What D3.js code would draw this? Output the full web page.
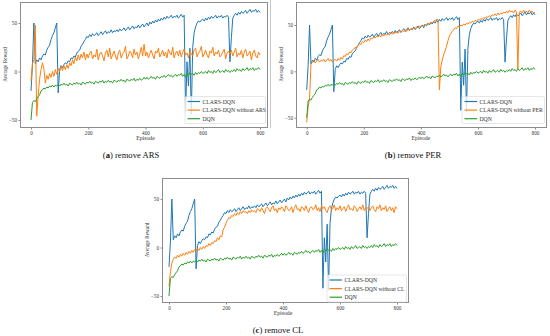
<!DOCTYPE html>
<html>
<head>
<meta charset="utf-8">
<script src="https://cdn.jsdelivr.net/npm/d3@7"></script>
<style>
  body { margin: 0; background: #fff; }
  svg { display: block; }
</style>
</head>
<body>
<svg width="550" height="336"></svg>
<script>
const episodes = d3.range(0, 801, 5);
const xTicks = [0, 200, 400, 600, 800];
const yTicks = [-50, 0, 50];

const clarsDqn = [
  -20, 6, 50, 8, 12, 10, 14, 12, 16, 18, 17, 22, 25, 27, 33, 37, 40, 45, 50, -22,
  2, 6, 4, 7, 9, 8, 11, 10, 14, 13, 16, 15, 19, 21, 22, 26, 28, 31, 33, 36,
  35, 38, 36, 39, 37, 38, 40, 37, 39, 41, 38, 40, 42, 39, 41, 40, 43, 40, 42, 41,
  43, 41, 44, 42, 43, 45, 42, 44, 46, 43, 45, 47, 44, 46, 45, 48, 45, 47, 49, 46,
  48, 50, 47, 51, 49, 52, 50, 53, 51, 54, 52, 55, 53, 56, 54, 57, 55, 56, 58, 55,
  57, 56, 58, 55, 57, 59, 56, 58, -42, 10, -15, 24, -44, 25, 40, 46, 50, 52, 51, 53,
  54, 52, 55, 53, 56, 54, 57, 55, 56, 58, 55, 57, 56, 58, 55, 57, 56, 58, 56, 10,
  35, 55, 58, 60, 58, 61, 59, 62, 60, 61, 63, 60, 62, 64, 61, 63, 62, 64, 61, 63,
  61
];

const dqn = [
  -50, -32, -30, -31, -28, -26, -24, -20, -19, -17, -18, -16, -17, -15, -16, -14, -16, -14, -15, -13,
  -15, -13, -14, -12, -14, -13, -15, -12, -13, -14, -12, -13, -11, -13, -12, -14, -11, -12, -13, -11,
  -12, -10, -12, -11, -13, -10, -11, -12, -10, -11, -9, -12, -10, -11, -9, -11, -10, -12, -9, -10,
  -11, -9, -10, -8, -10, -9, -11, -8, -9, -10, -8, -9, -7, -10, -8, -9, -7, -9, -8, -6,
  -8, -6, -8, -7, -5, -7, -6, -8, -5, -6, -7, -5, -6, -4, -6, -5, -3, -5, -4, -6,
  -4, -3, -5, -3, -4, -2, -5, -3, -6, -2, -4, -1, -3, -2, -4, -1, -3, -1, -2, 0,
  -2, -1, 0, -2, 1, -1, 0, -2, 1, -1, 0, 2, -1, 0, 1, -1, 2, 0, 1, -1,
  1, 0, 2, 0, 3, 1, 2, 0, 3, 1, 2, 4, 1, 3, 2, 4, 1, 3, 2, 4,
  2
];

const noArs = [
  -10, 8, 12, 48, -46, -25, -8, 2, 9, 3, -12, -4, -8, -2, -6, 0, -5, 2, -3, 3,
  0, 5, 1, 6, 2, 7, 3, 9, 6, 12, 8, 15, 11, 17, 12, 18, 14, 20, 12, 18,
  14, 19, 21, 13, 17, 15, 23, 12, 18, 20, 16, 11, 19, 22, 15, 24, 13, 17, 21, 16,
  12, 19, 22, 14, 18, 20, 26, 13, 16, 21, 19, 14, 23, 17, 20, 13, 18, 25, 16, 28,
  16, 20, 14, 18, 22, 17, 13, 21, 19, 24, 15, 18, 22, 16, 20, 14, 23, 19, 17, 25,
  14, 19, 21, 16, 22, 15, 20, 23, 17, 19, 14, 21, 18, 16, 22, 24, 15, 19, 21, 26,
  15, 18, 22, 17, 14, 21, 19, 25, 16, 20, 18, 22, 15, 17, 20, 23, 13, 19, 21, 18,
  22, 16, 20, 24, 15, 19, 17, 22, 14, 20, 23, 16, 18, 21, 12, 19, 22, 16, 14, 20,
  17
];

const noPer = [
  -55, -38, -30, 8, 10, 12, 9, 11, 13, 10, 12, 11, 13, 10, 12, 14, 11, 13, 10, 12,
  13, 11, 14, 12, 15, 13, 17, 16, 19, 18, 21, 20, 23, 24, 26, 25, 28, 30, 29, 32,
  31, 34, 32, 35, 33, 36, 35, 37, 36, 38, 37, 39, 37, 40, 38, 40, 39, 41, 39, 42,
  40, 42, 41, 43, 41, 44, 42, 44, 43, 45, 43, 46, 44, 46, 45, 47, 46, 48, 47, 49,
  48, 50, 49, 51, 50, 52, 51, 53, 52, 54, 55, 56, 56, -20, 5, 12, 18, 22, 27, 33,
  38, 41, 43, 45, 47, 46, 49, 48, 50, 49, 51, 50, 52, 51, 53, 52, 54, 53, 55, 54,
  56, 55, 57, 56, 58, 57, 59, 58, 60, 59, 61, 60, 62, 60, 63, 61, 63, 62, 64, 63,
  65, 63, 66, 64, 65, 63, 66, 64, 3, 64, 65, 63, 66, 64, 65, 63, 66, 64, 65, 63,
  64
];

const noCl = [
  -40, -25, -16, -12, -10, -11, -8, -10, -7, -9, -6, -8, -5, -7, -4, -6, -3, -5, -2, -4,
  -1, -3, 0, -2, 1, -1, 2, 1, 4, 2, 5, 4, 7, 6, 10, 8, 12, 11, 18, 21,
  25, 28, 31, 30, 33, 32, 35, 33, 36, 34, 37, 35, 38, 36, 37, 35, 38, 36, 39, 37,
  38, 36, 40, 39, 37, 41, 38, 35, 40, 42, 39, 37, 41, 43, 38, 40, 36, 41, 39, 42,
  40, 37, 43, 41, 38, 39, 42, 36, 41, 44, 39, 40, 37, 42, 41, 38, 43, 39, 36, 41,
  42, 39, 40, 44, 38, 41, 37, 43, 40, 42, 38, 36, 41, 43, 39, 40, 44, 38, 41, 39,
  43, 38, 40, 42, 37, 41, 44, 39, 40, 38, 43, 41, 37, 40, 42, 39, 44, 38, 41, 40,
  42, 38, 41, 43, 39, 37, 42, 40, 44, 38, 41, 39, 43, 37, 40, 42, 38, 41, 36, 42,
  40
];

const colors = { clars: "#1f77b4", ablation: "#ff7f0e", dqn: "#2ca02c" };
const serif = "'Liberation Serif', 'DejaVu Serif', serif";

const svg = d3.select("svg");

// thin border left over from the panel (a) image
svg.append("line")
  .attr("x1", 270.5).attr("x2", 270.5)
  .attr("y1", 0).attr("y2", 128)
  .attr("stroke", "#c8c8c8").attr("stroke-width", 1);

function drawPanel(p) {
  const x = d3.scaleLinear().domain([0, 800]).range([p.x0, p.x800]);
  const y = d3.scaleLinear().domain([-50, 50]).range([p.yLow, p.yHigh]);
  const g = svg.append("g");

  const clipId = "clip-" + p.key;
  g.append("clipPath").attr("id", clipId)
    .append("rect")
    .attr("x", p.left).attr("y", p.top)
    .attr("width", p.right - p.left).attr("height", p.bottom - p.top);

  const line = d3.line()
    .x((d, i) => x(episodes[i]))
    .y((d) => y(d));

  const series = [
    { name: "CLARS-DQN", values: clarsDqn, color: colors.clars },
    { name: p.ablationName, values: p.ablation, color: colors.ablation },
    { name: "DQN", values: dqn, color: colors.dqn }
  ];

  g.append("g")
    .attr("clip-path", `url(#${clipId})`)
    .selectAll("path")
    .data(series)
    .enter()
    .append("path")
    .attr("d", (s) => line(s.values))
    .attr("fill", "none")
    .attr("stroke", (s) => s.color)
    .attr("stroke-width", 1)
    .attr("stroke-linejoin", "round");

  // Frame
  g.append("rect")
    .attr("x", p.left + 0.5).attr("y", p.top + 0.5)
    .attr("width", p.right - p.left).attr("height", p.bottom - p.top)
    .attr("fill", "none")
    .attr("stroke", "#8c8c8c")
    .attr("stroke-width", 1);

  // Axes
  const xAxis = d3.axisBottom(x).tickValues(xTicks).tickSize(2).tickPadding(1.5);
  const yAxis = d3.axisLeft(y).tickValues(yTicks).tickSize(2).tickPadding(1.5)
    .tickFormat((d) => d < 0 ? "\u2212" + Math.abs(d) : d);

  const gx = g.append("g").attr("transform", `translate(0,${p.bottom + 0.5})`).call(xAxis);
  const gy = g.append("g").attr("transform", `translate(${p.left + 0.5},0)`).call(yAxis);
  [gx, gy].forEach((ax) => {
    ax.select(".domain").remove();
    ax.selectAll("line").attr("stroke", "#8c8c8c");
    ax.selectAll("text")
      .attr("font-family", serif)
      .attr("font-size", 5.2)
      .attr("fill", "#333");
  });

  g.append("text")
    .attr("x", (p.x0 + p.x800) / 2)
    .attr("y", p.bottom + 12.5)
    .attr("text-anchor", "middle")
    .attr("font-family", serif)
    .attr("font-size", 5.8)
    .attr("fill", "#333")
    .text("Episode");

  g.append("text")
    .attr("transform", `translate(${p.left - 13},${(p.top + p.bottom) / 2}) rotate(-90)`)
    .attr("text-anchor", "middle")
    .attr("font-family", serif)
    .attr("font-size", 5.2)
    .attr("fill", "#333")
    .text("Average Reward");

  // Legend
  const lg = g.append("g").attr("transform", `translate(${p.legendX},${p.legendY})`);
  lg.append("rect")
    .attr("x", 0).attr("y", 0)
    .attr("width", p.right - p.legendX - 1.5).attr("height", 27)
    .attr("rx", 1.5)
    .attr("fill", "#fff").attr("fill-opacity", 0.8)
    .attr("stroke", "#d6d6d6").attr("stroke-width", 0.6);

  const entry = lg.selectAll("g.entry")
    .data(series)
    .enter()
    .append("g")
    .attr("transform", (d, i) => `translate(0,${5 + i * 8.6})`);
  entry.append("line")
    .attr("x1", 2.5).attr("x2", 15)
    .attr("stroke", (d) => d.color)
    .attr("stroke-width", 1.2);
  entry.append("text")
    .attr("x", 17.5)
    .attr("y", 2)
    .attr("font-family", serif)
    .attr("font-size", 5.7)
    .attr("fill", "#333")
    .text((d) => d.name);

  // Caption
  const cap = svg.append("text")
    .attr("x", p.capX)
    .attr("y", p.capY)
    .attr("text-anchor", "middle")
    .attr("font-family", serif)
    .attr("font-size", 8.6)
    .attr("fill", "#111");
  cap.append("tspan").text("(");
  cap.append("tspan").attr("font-weight", "bold").text(p.letter);
  cap.append("tspan").text(") " + p.caption);
}

drawPanel({
  key: "a", letter: "a", caption: "remove ARS",
  ablation: noArs, ablationName: "CLARS-DQN without ARS",
  left: 20, right: 267, top: 2, bottom: 127,
  x0: 31, x800: 260, yLow: 120, yHigh: 23,
  legendX: 185, legendY: 96.5,
  capX: 131, capY: 158
});

drawPanel({
  key: "b", letter: "b", caption: "remove PER",
  ablation: noPer, ablationName: "CLARS-DQN without PER",
  left: 296, right: 546, top: 2, bottom: 127,
  x0: 306.7, x800: 535, yLow: 117.7, yHigh: 25,
  legendX: 462, legendY: 96.5,
  capX: 413, capY: 158
});

drawPanel({
  key: "c", letter: "c", caption: "remove CL",
  ablation: noCl, ablationName: "CLARS-DQN without CL",
  left: 162, right: 408, top: 178, bottom: 302,
  x0: 169, x800: 397, yLow: 296, yHigh: 199,
  legendX: 327, legendY: 275,
  capX: 278, capY: 333
});
</script>
</body>
</html>
